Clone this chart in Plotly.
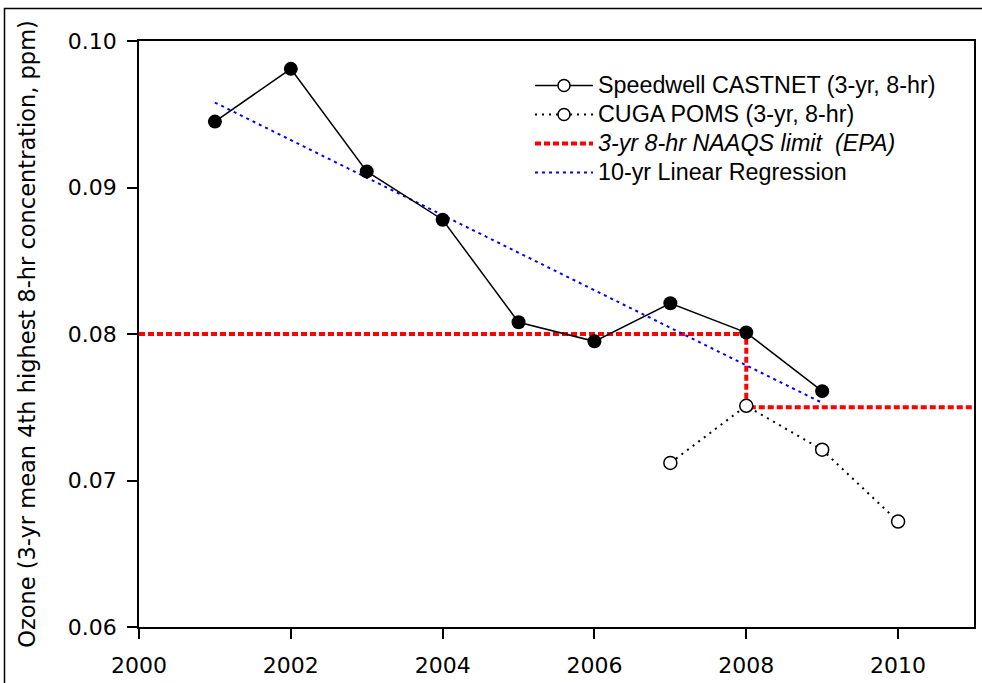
import plotly.graph_objects as go

# ---- data ----
speedwell_years = [2001, 2002, 2003, 2004, 2005, 2006, 2007, 2008, 2009]
speedwell_ozone = [0.0945, 0.0981, 0.0911, 0.0878, 0.0808, 0.0795, 0.0821, 0.0801, 0.0761]

cuga_years = [2007, 2008, 2009, 2010]
cuga_ozone = [0.0712, 0.0751, 0.0721, 0.0672]

naaqs_years = [2000, 2008, 2008, 2011]
naaqs_limit = [0.080, 0.080, 0.075, 0.075]

regression_years = [2001, 2009]
regression_ozone = [0.0958, 0.0753]

x_ticks = [2000, 2002, 2004, 2006, 2008, 2010]
y_ticks = [0.06, 0.07, 0.08, 0.09, 0.10]

names = ["Speedwell CASTNET (3-yr, 8-hr)", "CUGA POMS (3-yr, 8-hr)",
         "<i>3-yr 8-hr NAAQS limit  (EPA)</i>", "10-yr Linear Regression"]


def big(s):
    return '<span style="font-size:23.3px">' + s + '</span>'


fig = go.Figure()

# legend-only entries (open marker like the original legend)
fig.add_trace(go.Scatter(x=[None], y=[None], mode="lines+markers", name=big(names[0]),
                         line=dict(color="black", width=1.5),
                         marker=dict(symbol="circle", size=12, color="white",
                                     line=dict(color="black", width=1.5)),
                         legendrank=1))
fig.add_trace(go.Scatter(x=[None], y=[None], mode="lines+markers", name=big(names[1]),
                         line=dict(color="black", width=2, dash="2px,5px"),
                         marker=dict(symbol="circle", size=12, color="white",
                                     line=dict(color="black", width=1.5)),
                         legendrank=2))

fig.add_trace(go.Scatter(x=naaqs_years, y=naaqs_limit, mode="lines", name=big(names[2]),
                         line=dict(color="#ff0000", width=4, dash="6px,3px"),
                         legendrank=3))
fig.add_trace(go.Scatter(x=regression_years, y=regression_ozone, mode="lines", name=big(names[3]),
                         line=dict(color="#0000ff", width=2, dash="3px,4px"),
                         legendrank=4))

fig.add_trace(go.Scatter(x=speedwell_years, y=speedwell_ozone, mode="lines+markers",
                         showlegend=False,
                         line=dict(color="black", width=1.5),
                         marker=dict(symbol="circle", size=14, color="black")))
fig.add_trace(go.Scatter(x=cuga_years, y=cuga_ozone, mode="lines+markers",
                         showlegend=False,
                         line=dict(color="black", width=2, dash="2px,5px"),
                         marker=dict(symbol="circle", size=13, color="white",
                                     line=dict(color="black", width=1.5))))

L, R, T, B = 139, 8, 41, 56
W, H = 982, 683
pw, ph = W - L - R, H - T - B

fig.update_layout(
    width=W, height=H,
    margin=dict(l=L, r=R, t=T, b=B, pad=0, autoexpand=False),
    paper_bgcolor="white", plot_bgcolor="white",
    showlegend=True,
    legend=dict(x=(530 - L) / pw, y=1 - (66 - T) / ph, xanchor="left", yanchor="top",
                font=dict(family="Liberation Sans, Arial, sans-serif", size=20, color="black"),
                bgcolor="rgba(0,0,0,0)", borderwidth=0, itemwidth=58,
                tracegroupgap=0),
    xaxis=dict(range=[2000, 2011], tickvals=x_ticks, ticks="outside", ticklen=10,
               tickwidth=1.5, tickcolor="black", showline=True, linecolor="black",
               linewidth=1.5, mirror=True, showgrid=False, zeroline=False,
               ticklabelstandoff=8,
               tickfont=dict(family="DejaVu Sans, sans-serif", size=22, color="black")),
    yaxis=dict(range=[0.06, 0.10], tickvals=y_ticks, tickformat=".2f", ticks="outside",
               ticklen=10, tickwidth=1.5, tickcolor="black", showline=True,
               linecolor="black", linewidth=1.5, mirror=True, showgrid=False,
               zeroline=False, ticklabelstandoff=6,
               tickfont=dict(family="DejaVu Sans, sans-serif", size=22, color="black"),
               title=dict(text="Ozone (3-yr mean 4th highest 8-hr concentration, ppm)",
                          font=dict(family="DejaVu Sans, sans-serif", size=22.5, color="black"),
                          standoff=26)),
    shapes=[dict(type="rect", xref="paper", yref="paper",
                 x0=(4.5 - L) / pw, x1=(W + 20 - L) / pw,
                 y0=-(B + 20) / ph, y1=1 + (T - 8.5) / ph,
                 line=dict(color="black", width=1.5), layer="above")],
)

fig.write_html("out.html", config={"displayModeBar": False},
               post_script="document.body.style.margin='0px';document.body.style.overflow='hidden';")
